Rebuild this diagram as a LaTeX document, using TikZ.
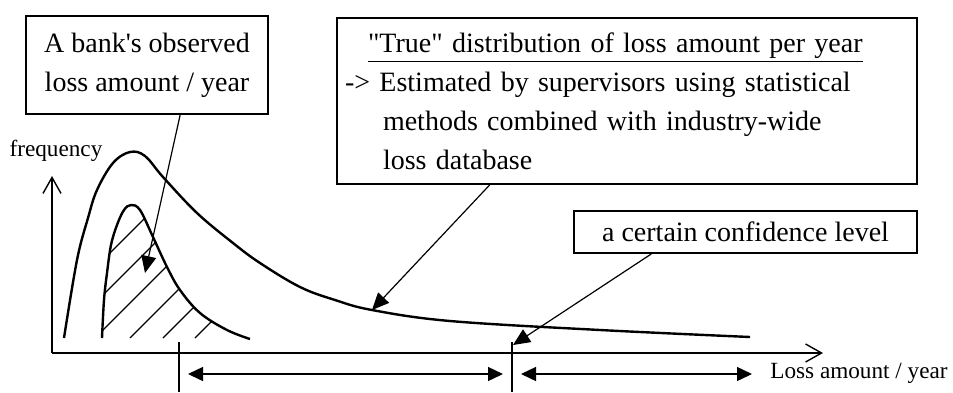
\documentclass[tikz,border=0pt]{standalone}
\usepackage{fontspec}
\setmainfont{Liberation Serif}
\usetikzlibrary{arrows.meta,calc}

\begin{document}
\begin{tikzpicture}
[x=0.5pt,y=-0.5pt,
  boxdecorate/.style={draw,line width=0.9pt,inner sep=0pt,font=\fontsize{14}{19.5}\selectfont},%
  curvedecorate/.style={line width=1.2pt},%
  hatchdecorate/.style={line width=0.55pt},%
  axisdecorate/.style={line width=0.7pt,-{Straight Barb[length=8pt,width=9pt]}},%
  pointdecorate/.style={line width=0.6pt,-{Triangle[length=8.5pt,width=7.5pt]}},%
  rangedecorate/.style={line width=0.7pt,{Triangle[length=7.5pt,width=7pt]}-{Triangle[length=7.5pt,width=7pt]}},%
  labeldecorate/.style={font=\fontsize{11.6}{14}\selectfont,inner sep=0pt}]
\useasboundingbox (0,0) rectangle (953,392);
%% text boxes
\node (obsbox) at (147,65) [boxdecorate,minimum width=121pt,minimum height=49pt,align=center]
  {A bank\textquotesingle s observed\\loss amount / year};
\node (truebox) at (627,101) [boxdecorate,inner xsep=4pt,text width=282pt,minimum height=83pt,align=left]
  {\hspace*{11.5pt}\underline{\textquotedbl True\textquotedbl{} distribution of loss amount per year}\\
   -> Estimated by supervisors using statistical\\
   \hspace*{19pt}methods combined with industry-wide\\
   \hspace*{19pt}loss database};
\node (confbox) at (745.5,232) [boxdecorate,minimum width=171.5pt,minimum height=21pt]
  {a certain confidence level};
%% axes
\coordinate (origin) at (52,353);
\coordinate (ytop) at (52,176);
\coordinate (xend) at (823,353);
\draw[axisdecorate] (origin) -- (ytop);
\draw[axisdecorate] (origin) -- (xend);
\node (freq) at (56,151) [labeldecorate] {frequency};
\node (lossaxis) at (859,373) [labeldecorate] {Loss amount / year};
%% distributions
\draw[curvedecorate] plot[smooth,tension=0.6] coordinates {(64,338) (77,260) (88,218) (97,190)
  (113,163) (130,152) (145,156) (163,177) (197,213) (233,243) (260,263) (300,287) (335,300)
  (372,310) (450,321) (600,330) (750,337)};
\begin{scope}
\clip plot[smooth,tension=0.6] coordinates {(102,338) (104,300) (107,273) (111,245) (117,225)
  (124,210) (131,205) (140,210) (153,237) (167,267) (180,290) (200,313) (227,330) (250,339)} -- cycle;
\foreach \c in {25,60,95,130,163,195}
{
  \draw[hatchdecorate] (\c,338) -- ++(140,-140);
}
\end{scope}
\draw[curvedecorate] plot[smooth,tension=0.6] coordinates {(102,338) (104,300) (107,273) (111,245)
  (117,225) (124,210) (131,205) (140,210) (153,237) (167,267) (180,290) (200,313) (227,330) (250,339)};
%% pointers
\coordinate (obspt) at (145,273);
\coordinate (truept) at (372,310);
\coordinate (confpt) at (513,345);
\draw[pointdecorate] ($(obsbox.south west)!0.636!(obsbox.south east)$) -- (obspt);
\draw[pointdecorate] ($(truebox.south west)!0.264!(truebox.south east)$) -- (truept);
\draw[pointdecorate] ($(confbox.south west)!0.227!(confbox.south east)$) -- (confpt);
%% ranges
\foreach \tickname/\x in {lowtick/179, conftick/512}
{
  \coordinate (\tickname) at (\x,342);
  \coordinate (\tickname end) at (\x,392);
  \draw[line width=0.7pt] (\tickname) -- (\tickname end);
}
\coordinate (rangeA) at (188,374);
\coordinate (rangeB) at (503,374);
\coordinate (rangeC) at (521,374);
\coordinate (rangeD) at (752,374);
\draw[rangedecorate] (rangeA) -- (rangeB);
\draw[rangedecorate] (rangeC) -- (rangeD);
\end{tikzpicture}
\end{document}
